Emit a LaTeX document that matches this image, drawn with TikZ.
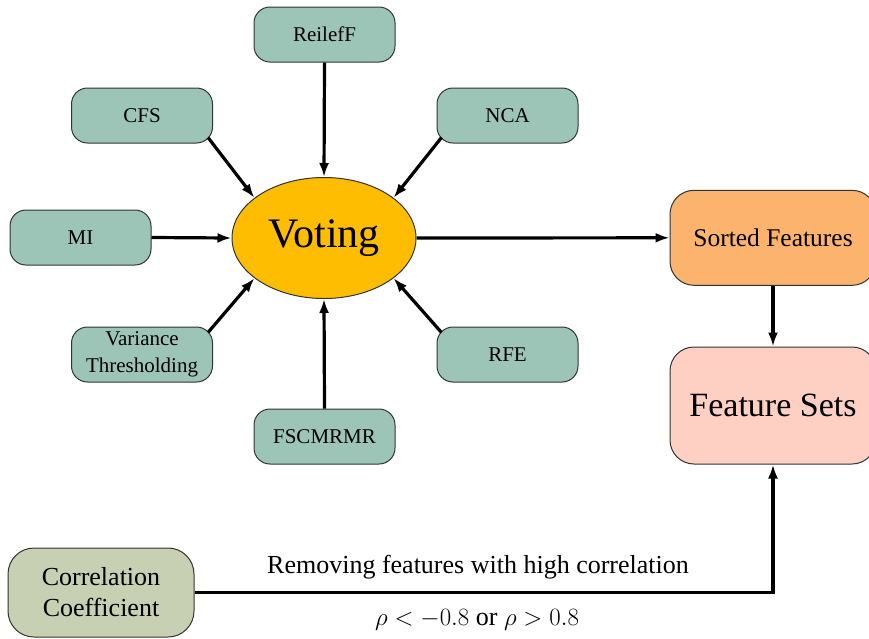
\documentclass[tikz,border=0pt]{standalone}
\usepackage{fontspec}
\setmainfont{Liberation Serif}
\usetikzlibrary{shapes.geometric,arrows.meta,calc}
\definecolor{tealbox}{HTML}{9CC5B8}
\definecolor{votefill}{HTML}{FEBD00}
\definecolor{sortfill}{HTML}{FBB36D}
\definecolor{setfill}{HTML}{FDD0C3}
\definecolor{corrfill}{HTML}{C8D0B3}
\definecolor{edge}{HTML}{333333}
\begin{document}
\begin{tikzpicture}[x=1pt,y=-1pt,
  method/.style={draw=edge,line width=1pt,fill=tealbox,rounded corners=16pt,
    minimum width=141pt,minimum height=55pt,inner sep=2pt,align=center,
    font=\fontsize{21}{24}\selectfont},
  bigbox/.style={draw=edge,line width=1pt,rounded corners=24pt,align=center,inner sep=2pt},
  conn/.style={line width=3.2pt,-{Latex[length=14pt,width=10pt]}}]
\useasboundingbox (0,0) rectangle (869,638);
\node[draw=edge,line width=1pt,fill=votefill,ellipse,minimum width=184pt,minimum height=121pt,inner sep=0pt,
  font=\fontsize{42}{48}\selectfont] (vote) at (324,238) {Voting};
\node[method] (relief) at (324.5,34.5) {ReilefF};
\node[method] (cfs) at (142,115.5) {CFS};
\node[method] (nca) at (507.5,115.5) {NCA};
\node[method] (mi) at (80.5,237.5) {MI};
\node[method] (var) at (142,354.5) {Variance\\[3pt]Thresholding};
\node[method] (rfe) at (507.5,354.5) {RFE};
\node[method] (fsc) at (324.5,436.5) {FSCMRMR};
\node[bigbox,fill=sortfill,minimum width=206pt,minimum height=95pt,
  font=\fontsize{25.5}{29}\selectfont] (sorted) at (773,237.8) {Sorted Features};
\node[bigbox,fill=setfill,minimum width=206pt,minimum height=117pt,
  font=\fontsize{34}{38}\selectfont] (sets) at (773,405.5) {Feature Sets};
\node[bigbox,fill=corrfill,minimum width=186pt,minimum height=89pt,rounded corners=26pt,
  font=\fontsize{26}{30}\selectfont] (corr) at (101,592.5) {Correlation\\[1pt]Coefficient};
\coordinate (cfsout) at ($(cfs.south east)+(-5,-6)$);
\coordinate (ncaout) at ($(nca.south west)+(5,-6)$);
\coordinate (varout) at ($(var.north east)+(-5,6)$);
\coordinate (rfeout) at ($(rfe.north west)+(5,6)$);
\draw[conn] (relief.south) -- (vote.north);
\draw[conn] (fsc.north) -- (vote.south);
\draw[conn] (mi.east) -- (vote.west);
\draw[conn] (cfsout) -- (vote.150);
\draw[conn] (ncaout) -- (vote.30);
\draw[conn] (varout) -- (vote.210);
\draw[conn] (rfeout) -- (vote.330);
\draw[conn] (vote.east) -- (sorted.west);
\draw[conn] (sorted.south) -- (sets.north);
\draw[conn] (corr.east) -| (sets.south);
\node[font=\fontsize{26}{30}\selectfont] (lab1) at (478,567) {Removing features with high correlation};
\node[font=\fontsize{26}{30}\selectfont] (lab2) at (477,620) {$\rho < -0.8$ or $\rho > 0.8$};
\end{tikzpicture}
\end{document}
